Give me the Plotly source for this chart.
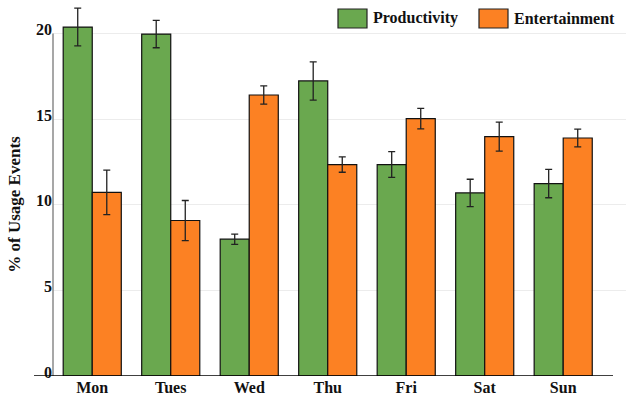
import plotly.graph_objects as go

days = ["Mon", "Tues", "Wed", "Thu", "Fri", "Sat", "Sun"]
productivity = [20.38, 19.97, 7.99, 17.23, 12.35, 10.69, 11.24]
productivity_err = [1.1, 0.8, 0.3, 1.12, 0.75, 0.8, 0.83]
entertainment = [10.72, 9.08, 16.41, 12.35, 15.03, 13.98, 13.90]
entertainment_err = [1.3, 1.17, 0.53, 0.45, 0.6, 0.85, 0.52]
series_names = ["Productivity", "Entertainment"]
yticks = [0, 5, 10, 15, 20]

GREEN = "#6aa84f"
ORANGE = "#fc8123"
FONT = "Liberation Serif, Times New Roman, serif"

fig = go.Figure()
for name, vals, errs, col in [
    (series_names[0], productivity, productivity_err, GREEN),
    (series_names[1], entertainment, entertainment_err, ORANGE),
]:
    fig.add_trace(go.Bar(
        x=days, y=vals, name=name,
        marker=dict(color=col, line=dict(color="#111", width=1.2)),
        error_y=dict(type="data", array=errs, visible=True, color="#222",
                     thickness=1.3, width=3.5),
        cliponaxis=False,
    ))

W, H = 626, 401
ml, mr, mt, mb = 53, 0, 1, 25
fig.update_layout(
    width=W, height=H,
    margin=dict(l=ml, r=mr, t=mt, b=mb),
    barmode="group", bargap=0.26, bargroupgap=0,
    plot_bgcolor="white", paper_bgcolor="white",
    showlegend=False,
    font=dict(family=FONT, size=15, color="#111"),
    xaxis=dict(
        range=[-0.5, 6.8], showgrid=False, showline=False, zeroline=False,
        ticks="", tickfont=dict(family=FONT, size=16, color="#111", weight="bold"),
    ),
    yaxis=dict(
        range=[0, 21.9], tickvals=yticks, ticktext=[str(t) for t in yticks],
        showgrid=True, gridcolor="#ececec", gridwidth=1,
        zeroline=False, showline=False, ticks="",
        tickfont=dict(family=FONT, size=16, color="#111", weight="bold"),
        ticklabelstandoff=0, ticklabelshift=-4,
    ),
)

# y axis line (0..20) and x baseline
fig.add_shape(type="line", xref="paper", yref="y", x0=0, x1=0, y0=0, y1=20,
              line=dict(color="#8a8a8a", width=1.5))
pw = W - ml - mr
fig.add_shape(type="line", xref="paper", yref="y",
              x0=(34 - ml) / pw, x1=(613 - ml) / pw, y0=0, y1=0,
              line=dict(color="#000", width=1.5))

# y title
fig.add_annotation(text="% of Usage Events", xref="paper", yref="y",
                   x=(15 - ml) / pw, y=10, showarrow=False, textangle=-90,
                   font=dict(family=FONT, size=17, color="#111", weight="bold"),
                   xanchor="center", yanchor="middle")

# legend built with shapes/annotations (paper coords)
ph = H - mt - mb
def px(x):
    return (x - ml) / pw
def py(y):
    return 1 - (y - mt) / ph

for name, col, bx, tx in [(series_names[0], GREEN, 338, 371), (series_names[1], ORANGE, 479, 512)]:
    fig.add_shape(type="rect", xref="paper", yref="paper",
                  x0=px(bx), x1=px(bx + 29), y0=py(28), y1=py(9),
                  fillcolor=col, line=dict(color="#222", width=1.2))
    fig.add_annotation(text=name, xref="paper", yref="paper",
                       x=px(tx), y=py(18.5), showarrow=False,
                       xanchor="left", yanchor="middle",
                       font=dict(family=FONT, size=16, color="#111", weight="bold"))

fig.write_html("out.html", config={"displayModeBar": False},
               post_script="document.body.style.margin='0';")
